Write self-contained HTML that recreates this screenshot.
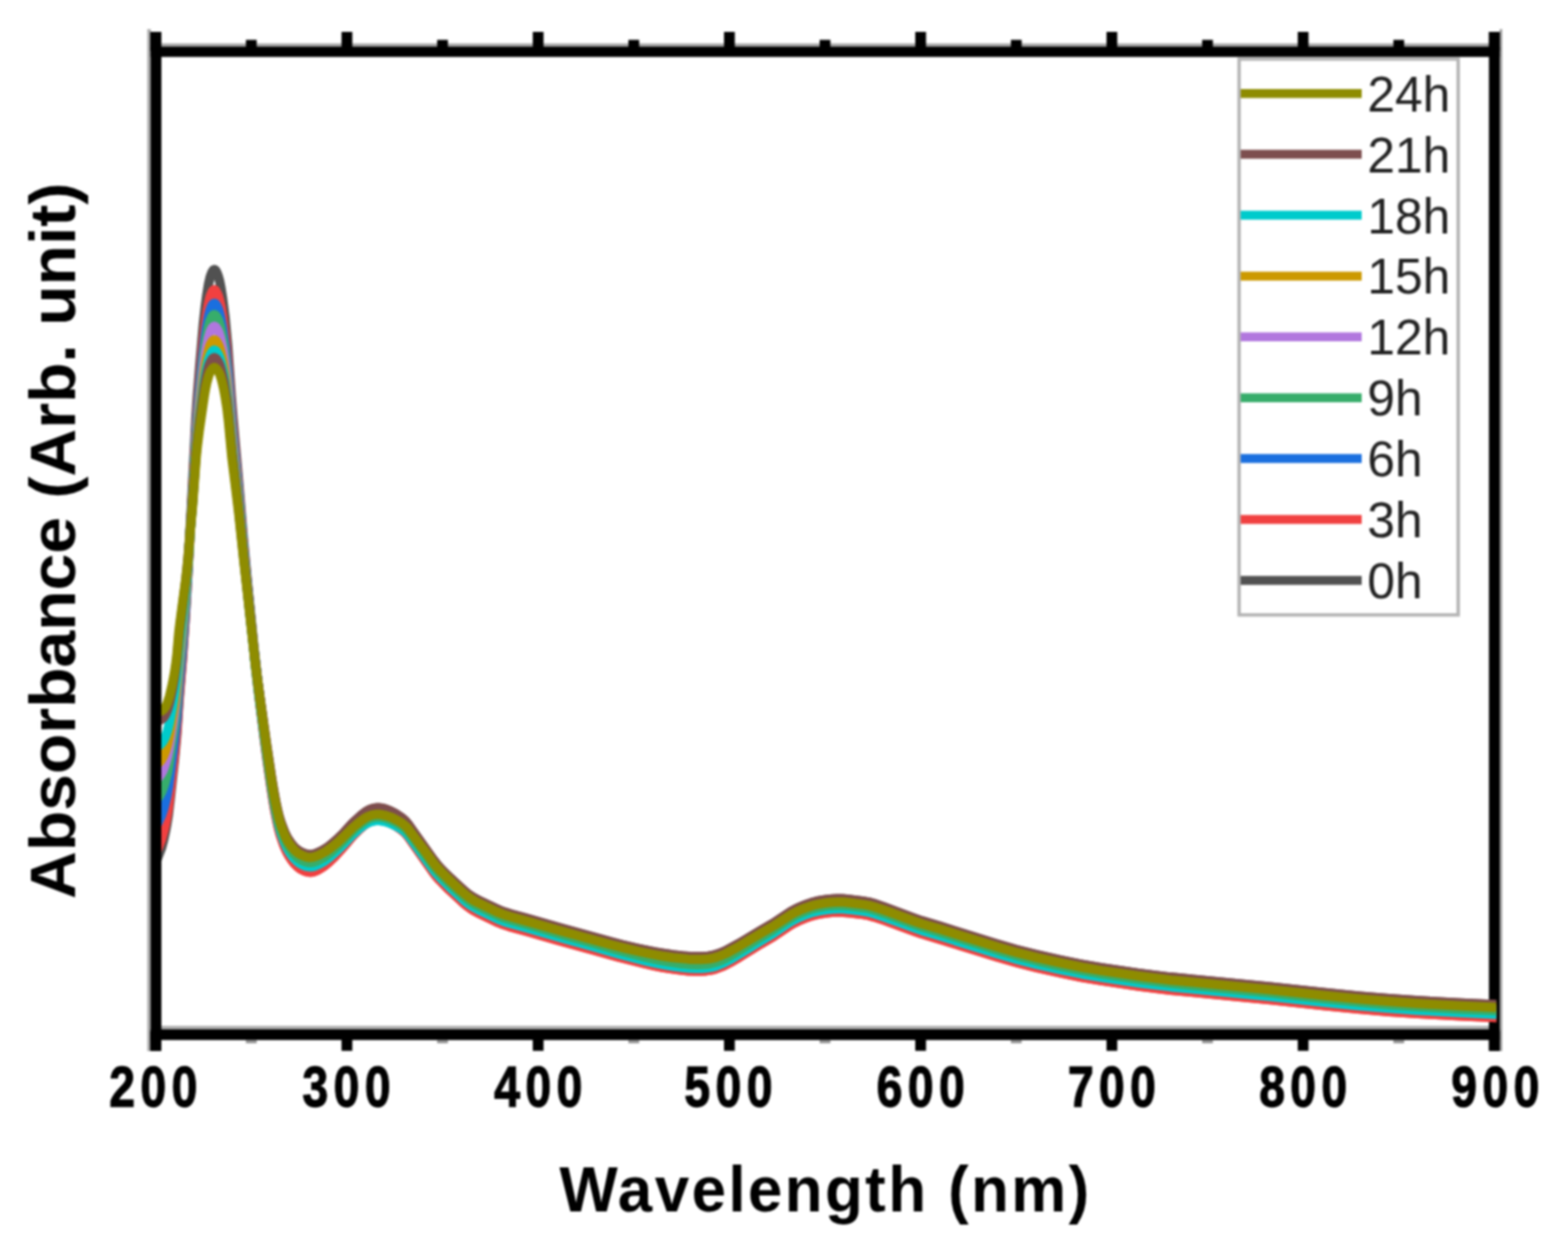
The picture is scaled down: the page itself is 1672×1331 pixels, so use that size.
<!DOCTYPE html>
<html><head><meta charset="utf-8"><title>Absorbance spectra</title><style>html,body{margin:0;padding:0;background:#fff;overflow:hidden}svg{display:block;filter:blur(0.9px)}</style></head><body>
<svg width="1672" height="1331" viewBox="0 0 1672 1331">
<defs><clipPath id="pa"><rect x="172" y="60" width="1423.5" height="1037"/></clipPath></defs>
<rect width="1672" height="1331" fill="#fff"/>
<rect x="1321.3" y="63" width="233.6" height="592.8" fill="none" stroke="#b4b4b4" stroke-width="3.6"/>
<line x1="1323" y1="99.7" x2="1452" y2="99.7" stroke="#8E8C00" stroke-width="9.5"/>
<text x="1458" y="118.7" font-family="Liberation Sans, Arial, sans-serif" font-size="53" fill="#222">24h</text>
<line x1="1323" y1="164.6" x2="1452" y2="164.6" stroke="#7D4E4E" stroke-width="9.5"/>
<text x="1458" y="183.6" font-family="Liberation Sans, Arial, sans-serif" font-size="53" fill="#222">21h</text>
<line x1="1323" y1="229.5" x2="1452" y2="229.5" stroke="#00CBCC" stroke-width="9.5"/>
<text x="1458" y="248.5" font-family="Liberation Sans, Arial, sans-serif" font-size="53" fill="#222">18h</text>
<line x1="1323" y1="294.4" x2="1452" y2="294.4" stroke="#CC9900" stroke-width="9.5"/>
<text x="1458" y="313.4" font-family="Liberation Sans, Arial, sans-serif" font-size="53" fill="#222">15h</text>
<line x1="1323" y1="359.3" x2="1452" y2="359.3" stroke="#B177DE" stroke-width="9.5"/>
<text x="1458" y="378.3" font-family="Liberation Sans, Arial, sans-serif" font-size="53" fill="#222">12h</text>
<line x1="1323" y1="424.2" x2="1452" y2="424.2" stroke="#37AD6B" stroke-width="9.5"/>
<text x="1458" y="443.2" font-family="Liberation Sans, Arial, sans-serif" font-size="53" fill="#222">9h</text>
<line x1="1323" y1="489.1" x2="1452" y2="489.1" stroke="#1A6FDF" stroke-width="9.5"/>
<text x="1458" y="508.1" font-family="Liberation Sans, Arial, sans-serif" font-size="53" fill="#222">6h</text>
<line x1="1323" y1="554.0" x2="1452" y2="554.0" stroke="#F14040" stroke-width="9.5"/>
<text x="1458" y="573.0" font-family="Liberation Sans, Arial, sans-serif" font-size="53" fill="#222">3h</text>
<line x1="1323" y1="618.9" x2="1452" y2="618.9" stroke="#515151" stroke-width="9.5"/>
<text x="1458" y="637.9" font-family="Liberation Sans, Arial, sans-serif" font-size="53" fill="#222">0h</text>
<g fill="#000">
<rect x="157" y="31" width="4" height="1090" fill="#b0b0b0"/>
<rect x="166" y="46.3" width="1428" height="3.5" fill="#a8a8a8"/>
<rect x="172" y="1094" width="1416" height="4" fill="#b0b0b0"/>
<rect x="1599" y="31" width="3" height="1090" fill="#a8a8a8"/>
<rect x="160.6" y="34" width="11.5" height="1086.7"/>
<rect x="1587.7" y="34" width="11.5" height="1086.7"/>
<rect x="160.6" y="49.7" width="1438.6" height="11"/>
<rect x="160.6" y="1097.8" width="1438.6" height="11.4"/>
<rect x="160.25" y="34" width="11.5" height="20"/>
<rect x="160.25" y="1100" width="11.5" height="20.7"/>
<rect x="262.21" y="42.5" width="11.5" height="10"/>
<rect x="262.21" y="1109.2" width="11.5" height="3.3" fill="#8a8a8a"/>
<rect x="364.18" y="34" width="11.5" height="20"/>
<rect x="364.18" y="1100" width="11.5" height="20.7"/>
<rect x="466.14" y="42.5" width="11.5" height="10"/>
<rect x="466.14" y="1109.2" width="11.5" height="3.3" fill="#8a8a8a"/>
<rect x="568.11" y="34" width="11.5" height="20"/>
<rect x="568.11" y="1100" width="11.5" height="20.7"/>
<rect x="670.07" y="42.5" width="11.5" height="10"/>
<rect x="670.07" y="1109.2" width="11.5" height="3.3" fill="#8a8a8a"/>
<rect x="772.04" y="34" width="11.5" height="20"/>
<rect x="772.04" y="1100" width="11.5" height="20.7"/>
<rect x="874.00" y="42.5" width="11.5" height="10"/>
<rect x="874.00" y="1109.2" width="11.5" height="3.3" fill="#8a8a8a"/>
<rect x="975.96" y="34" width="11.5" height="20"/>
<rect x="975.96" y="1100" width="11.5" height="20.7"/>
<rect x="1077.93" y="42.5" width="11.5" height="10"/>
<rect x="1077.93" y="1109.2" width="11.5" height="3.3" fill="#8a8a8a"/>
<rect x="1179.89" y="34" width="11.5" height="20"/>
<rect x="1179.89" y="1100" width="11.5" height="20.7"/>
<rect x="1281.86" y="42.5" width="11.5" height="10"/>
<rect x="1281.86" y="1109.2" width="11.5" height="3.3" fill="#8a8a8a"/>
<rect x="1383.82" y="34" width="11.5" height="20"/>
<rect x="1383.82" y="1100" width="11.5" height="20.7"/>
<rect x="1485.79" y="42.5" width="11.5" height="10"/>
<rect x="1485.79" y="1109.2" width="11.5" height="3.3" fill="#8a8a8a"/>
<rect x="1587.75" y="34" width="11.5" height="20"/>
<rect x="1587.75" y="1100" width="11.5" height="20.7"/>
</g>
<g fill="none" stroke-linejoin="round" stroke-linecap="butt" stroke-width="10" clip-path="url(#pa)">
<path stroke="#515151" d="M163.0,919.9 166.0,919.9 167.6,916.2 172.1,904.7 174.5,895.6 176.2,888.0 177.8,879.8 179.5,869.4 181.6,851.7 186.2,809.3 188.6,782.5 190.8,748.6 194.5,703.6 197.5,659.5 200.0,617.0 208.8,446.7 210.3,424.0 213.1,388.5 216.8,345.8 218.8,327.2 220.5,314.5 222.5,302.3 224.2,295.2 225.4,291.8 226.4,289.6 227.5,288.1 228.5,287.5 229.1,287.7 229.7,288.1 230.3,288.9 231.4,291.1 232.8,294.8 234.2,299.9 235.6,307.0 237.2,317.2 240.0,338.9 242.9,369.8 246.6,422.4 248.5,446.4 253.9,507.1 259.5,574.0 263.6,618.1 270.6,689.1 273.1,712.6 279.9,767.0 285.4,807.2 289.9,837.4 292.7,854.2 296.3,871.5 299.1,881.9 301.3,888.0 303.5,893.4 305.6,897.9 307.6,901.4 311.0,906.2 313.8,909.5 316.9,912.2 319.9,914.1 322.5,915.5 325.3,916.6 328.2,917.3 330.3,917.5 332.3,917.4 334.3,917.1 337.1,916.2 339.8,915.1 347.4,911.1 350.9,908.7 354.8,905.7 359.2,902.2 363.9,897.9 376.4,885.5 384.4,878.9 389.8,875.2 392.0,874.0 394.9,872.8 397.8,872.0 400.6,871.6 402.7,871.5 405.6,871.6 412.0,873.0 417.4,874.8 423.8,878.0 428.6,880.8 432.5,884.0 434.4,885.9 436.6,888.7 454.4,912.6 462.7,924.0 466.0,928.0 469.7,932.0 479.9,942.1 490.4,952.0 495.9,956.7 499.2,959.4 502.6,961.8 506.4,964.1 510.3,966.1 529.9,975.5 538.4,978.9 544.9,980.8 560.5,985.1 596.0,995.2 652.3,1010.7 666.9,1014.4 682.3,1018.0 695.1,1020.7 705.3,1022.5 717.3,1024.2 733.7,1025.9 740.8,1026.2 747.6,1026.3 752.4,1026.1 757.0,1025.5 761.2,1024.6 765.2,1023.4 769.8,1021.8 773.8,1020.0 787.1,1012.8 812.0,998.0 825.0,990.5 843.0,978.7 847.4,976.3 852.8,973.7 858.2,971.5 864.0,969.5 868.8,968.1 873.5,967.1 880.4,966.0 886.9,965.3 893.6,965.0 899.3,965.1 905.7,965.7 920.8,967.6 926.5,968.6 931.7,970.0 943.2,973.8 975.9,985.7 983.1,988.2 1002.1,993.8 1063.8,1013.0 1085.5,1019.2 1106.1,1024.4 1130.9,1029.9 1153.6,1034.5 1174.5,1038.1 1214.6,1044.0 1248.2,1048.2 1354.6,1058.5 1412.9,1064.8 1450.7,1068.5 1481.4,1071.1 1511.9,1073.2 1558.1,1075.8 1600.0,1077.6"/>
<path stroke="#F14040" d="M163.0,910.0 166.0,909.9 168.4,904.6 172.1,895.6 174.5,887.0 176.2,879.8 177.8,871.9 179.5,862.0 181.6,845.0 186.0,806.3 188.6,778.3 190.9,744.2 194.5,701.9 197.5,660.0 200.0,618.3 208.8,458.1 210.1,438.7 212.5,409.5 216.0,370.7 218.5,348.4 220.2,335.4 222.3,323.6 223.9,316.9 224.9,314.1 226.4,310.9 227.5,309.5 228.5,309.0 229.1,309.1 229.7,309.6 231.4,312.3 233.1,316.5 234.4,321.3 235.8,327.9 237.5,337.9 240.3,359.3 243.1,386.5 247.9,449.5 254.0,515.1 259.5,578.2 271.4,699.4 275.1,733.3 281.5,786.1 285.0,812.0 289.5,843.6 292.8,863.6 296.1,879.9 298.7,890.2 302.3,900.7 304.4,905.6 306.6,910.2 308.8,914.0 311.4,917.9 313.8,920.9 316.4,923.6 319.2,925.9 321.8,927.5 324.6,928.9 326.7,929.6 329.6,930.2 331.7,930.2 333.7,929.9 336.4,929.0 339.1,927.7 342.4,925.8 346.2,923.3 349.2,920.9 357.0,913.5 365.4,904.3 376.4,891.3 382.6,885.1 387.4,880.8 392.0,877.5 396.4,875.5 398.5,874.9 401.3,874.4 403.4,874.3 405.6,874.5 408.4,875.0 412.0,876.0 414.7,877.0 418.1,878.6 421.3,880.4 425.6,883.2 428.6,885.4 430.9,887.4 433.0,889.6 435.3,892.4 461.4,929.7 465.0,934.4 468.7,938.6 478.3,948.4 494.2,963.1 498.1,966.3 501.4,968.8 504.5,970.8 508.4,972.9 531.2,983.9 536.6,986.0 542.9,988.1 560.5,992.9 595.3,1002.9 630.7,1012.6 659.4,1020.7 687.3,1027.7 697.9,1030.1 706.7,1031.8 716.5,1033.4 725.4,1034.6 733.7,1035.4 740.8,1035.7 747.6,1035.8 753.0,1035.4 758.4,1034.6 763.2,1033.4 771.2,1030.4 778.9,1026.3 789.6,1020.1 811.4,1006.6 825.0,998.6 843.0,986.6 847.4,984.2 852.8,981.6 858.2,979.4 864.0,977.3 868.8,975.9 873.5,974.9 880.4,973.8 886.9,973.1 893.6,972.8 899.3,972.9 905.7,973.5 920.8,975.4 926.5,976.4 931.7,977.8 943.2,981.6 975.9,993.5 983.1,996.0 1002.1,1001.6 1063.8,1020.8 1085.5,1027.0 1106.1,1032.2 1130.9,1037.7 1153.6,1042.3 1174.5,1045.9 1214.6,1051.8 1248.2,1056.0 1354.6,1066.3 1412.9,1072.6 1450.7,1076.3 1481.4,1078.9 1511.9,1081.0 1558.1,1083.6 1600.0,1085.4"/>
<path stroke="#1A6FDF" d="M163.0,882.0 166.0,881.9 168.4,877.5 172.1,869.9 174.5,862.7 176.2,856.3 178.1,848.1 179.8,838.9 181.8,823.8 186.0,789.8 188.6,764.2 190.9,730.7 194.5,690.9 198.0,646.4 200.0,615.8 202.8,566.1 205.3,526.7 208.8,463.1 210.1,445.5 212.5,418.1 216.0,381.7 218.5,360.5 220.2,348.3 222.3,337.1 223.9,330.9 224.9,328.3 226.4,325.3 227.5,324.0 228.5,323.5 229.1,323.6 229.7,324.0 231.4,326.6 233.1,330.4 234.4,334.9 235.8,341.2 237.5,350.5 240.5,371.8 243.1,396.6 247.7,455.3 254.0,519.8 259.8,583.3 271.3,697.4 274.8,727.8 281.6,780.3 285.0,804.5 289.8,836.7 292.9,855.5 296.1,870.8 298.7,880.7 302.1,890.1 304.1,894.8 305.9,898.5 308.0,902.0 310.6,905.6 312.8,908.4 315.3,910.9 317.4,912.6 320.5,914.5 325.3,916.6 328.2,917.3 330.3,917.5 332.3,917.4 334.3,917.1 337.1,916.2 339.8,915.1 347.4,911.1 350.9,908.7 354.8,905.7 359.2,902.2 363.9,897.9 376.4,885.5 384.4,878.9 389.8,875.2 392.0,874.0 394.9,872.8 397.8,872.0 400.6,871.6 402.7,871.5 405.6,871.6 412.0,873.0 417.4,874.8 423.8,878.0 428.6,880.8 432.5,884.0 434.4,885.9 436.6,888.7 454.4,912.6 462.7,924.0 466.0,928.0 469.7,932.0 479.9,942.1 490.4,952.0 495.9,956.7 499.2,959.4 502.6,961.8 506.4,964.1 510.3,966.1 529.9,975.5 538.4,978.9 544.9,980.8 560.5,985.1 596.0,995.2 652.3,1010.7 666.9,1014.4 682.3,1018.0 695.1,1020.7 705.3,1022.5 717.3,1024.2 733.7,1025.9 740.8,1026.2 747.6,1026.3 752.4,1026.1 757.0,1025.5 761.2,1024.6 765.2,1023.4 769.8,1021.8 773.8,1020.0 787.1,1012.8 812.0,998.0 825.0,990.5 843.0,978.7 847.4,976.3 852.8,973.7 858.2,971.5 864.0,969.5 868.8,968.1 873.5,967.1 880.4,966.0 886.9,965.3 893.6,965.0 899.3,965.1 905.7,965.7 920.8,967.6 926.5,968.6 931.7,970.0 943.2,973.8 975.9,985.7 983.1,988.2 1002.1,993.8 1063.8,1013.0 1085.5,1019.2 1106.1,1024.4 1130.9,1029.9 1153.6,1034.5 1174.5,1038.1 1214.6,1044.0 1248.2,1048.2 1354.6,1058.5 1412.9,1064.8 1450.7,1068.5 1481.4,1071.1 1511.9,1073.2 1558.1,1075.8 1600.0,1077.6"/>
<path stroke="#37AD6B" d="M163.0,855.0 166.0,854.9 170.0,848.8 172.1,845.2 173.4,842.1 175.0,837.8 176.6,832.4 178.6,824.3 180.4,814.4 186.0,773.8 188.6,749.6 191.0,716.7 194.5,680.1 198.2,636.2 200.2,608.5 202.8,564.6 205.2,529.2 208.9,466.9 210.3,449.3 212.6,424.1 216.7,384.7 218.7,368.9 220.4,358.2 222.3,348.4 223.9,342.5 224.9,340.0 226.4,337.2 227.5,336.0 228.5,335.5 229.7,336.0 231.4,338.4 233.1,342.0 234.7,347.1 236.5,355.4 237.8,362.5 240.7,383.1 243.1,405.7 246.5,447.8 248.1,466.0 254.0,523.7 260.8,596.4 271.6,701.0 275.2,731.4 282.3,786.1 285.4,808.1 290.5,842.1 293.3,858.4 296.6,874.0 299.4,883.9 302.9,893.6 304.7,897.6 306.6,901.4 308.8,905.0 311.4,908.7 313.8,911.5 315.8,913.5 318.0,915.3 321.2,917.3 323.9,918.6 326.0,919.3 328.9,919.9 331.0,920.1 333.0,919.9 335.0,919.4 339.8,917.5 346.8,913.6 349.8,911.5 353.7,908.3 358.7,904.0 362.9,900.0 376.4,886.0 383.8,879.6 389.8,875.3 392.0,874.0 394.9,872.8 397.8,872.0 400.6,871.5 402.7,871.4 405.6,871.6 411.3,872.7 416.7,874.6 422.0,877.0 428.0,880.6 432.0,883.7 434.4,886.2 436.6,889.0 462.7,924.6 466.0,928.6 469.7,932.6 479.3,942.2 495.3,956.9 499.2,960.0 502.6,962.4 506.4,964.7 510.3,966.7 531.9,977.0 537.8,979.2 544.9,981.4 560.5,985.7 598.7,996.6 631.4,1005.6 655.1,1012.4 668.3,1015.9 685.9,1020.3 699.3,1023.4 711.3,1025.6 723.2,1027.4 737.0,1028.7 743.2,1028.9 749.0,1028.8 753.0,1028.5 757.0,1028.0 761.2,1027.0 765.2,1025.8 769.8,1024.0 773.8,1022.2 785.9,1015.3 812.0,999.2 825.0,991.4 842.4,979.8 846.7,977.4 852.1,974.7 857.5,972.5 863.4,970.3 868.2,968.9 873.5,967.7 880.4,966.6 886.9,965.9 893.6,965.6 899.3,965.7 905.7,966.3 920.8,968.2 926.5,969.2 931.7,970.6 943.2,974.4 975.9,986.3 983.1,988.8 1002.1,994.4 1063.8,1013.6 1085.5,1019.8 1106.1,1025.0 1130.9,1030.5 1153.6,1035.1 1174.5,1038.7 1214.6,1044.6 1248.2,1048.8 1354.6,1059.1 1412.9,1065.4 1450.7,1069.1 1481.4,1071.7 1511.9,1073.8 1558.1,1076.4 1600.0,1078.2"/>
<path stroke="#B177DE" d="M163.0,833.0 166.0,832.9 170.7,827.0 172.1,825.0 174.0,821.2 176.6,814.1 178.6,806.9 180.4,798.0 182.3,786.0 185.9,761.8 188.5,738.7 191.1,705.5 194.5,671.7 198.6,627.4 200.5,602.1 202.9,564.1 205.2,531.6 208.9,471.3 210.3,455.4 212.6,431.6 217.1,391.7 218.8,378.6 220.4,369.3 222.3,360.1 223.9,354.5 224.9,352.2 226.4,349.6 227.5,348.5 228.5,348.0 229.1,348.1 230.3,349.1 232.0,351.7 233.4,354.8 234.9,359.7 236.6,367.3 238.1,374.9 241.1,395.7 243.2,415.1 246.4,454.1 247.9,469.9 254.0,527.7 261.1,600.7 271.8,703.5 275.4,732.8 282.7,788.3 285.6,808.8 290.8,843.3 293.5,858.6 296.8,873.5 299.4,882.6 302.9,892.1 304.7,896.0 306.6,899.7 308.4,902.6 311.0,906.2 313.3,909.0 315.3,910.9 317.4,912.6 320.5,914.5 325.3,916.6 328.2,917.3 330.3,917.5 332.3,917.4 334.3,917.1 337.1,916.2 339.8,915.1 347.4,911.1 350.9,908.7 354.8,905.7 359.2,902.2 363.9,897.9 376.4,885.5 384.4,878.9 389.8,875.2 392.0,874.0 394.9,872.8 397.8,872.0 400.6,871.6 402.7,871.5 405.6,871.6 412.0,873.0 417.4,874.8 423.8,878.0 428.6,880.8 432.5,884.0 434.4,885.9 436.6,888.7 454.4,912.6 462.7,924.0 466.0,928.0 469.7,932.0 479.9,942.1 490.4,952.0 495.9,956.7 499.2,959.4 502.6,961.8 506.4,964.1 510.3,966.1 529.9,975.5 538.4,978.9 544.9,980.8 560.5,985.1 596.0,995.2 652.3,1010.7 666.9,1014.4 682.3,1018.0 695.1,1020.7 705.3,1022.5 717.3,1024.2 733.7,1025.9 740.8,1026.2 747.6,1026.3 752.4,1026.1 757.0,1025.5 761.2,1024.6 765.2,1023.4 769.8,1021.8 773.8,1020.0 787.1,1012.8 812.0,998.0 825.0,990.5 843.0,978.7 847.4,976.3 852.8,973.7 858.2,971.5 864.0,969.5 868.8,968.1 873.5,967.1 880.4,966.0 886.9,965.3 893.6,965.0 899.3,965.1 905.7,965.7 920.8,967.6 926.5,968.6 931.7,970.0 943.2,973.8 975.9,985.7 983.1,988.2 1002.1,993.8 1063.8,1013.0 1085.5,1019.2 1106.1,1024.4 1130.9,1029.9 1153.6,1034.5 1174.5,1038.1 1214.6,1044.0 1248.2,1048.2 1354.6,1058.5 1412.9,1064.8 1450.7,1068.5 1481.4,1071.1 1511.9,1073.2 1558.1,1075.8 1600.0,1077.6"/>
<path stroke="#CC9900" d="M163.0,817.0 166.0,817.0 168.4,814.6 171.4,811.3 172.1,810.4 174.0,807.1 176.6,800.9 178.6,794.3 180.6,785.2 185.7,753.5 187.2,742.6 188.5,730.5 191.1,697.7 197.4,637.7 198.8,622.5 200.7,599.2 202.9,566.2 205.2,535.4 208.9,477.9 210.2,463.6 212.3,443.2 216.8,405.1 218.7,391.7 220.2,382.9 222.3,373.6 223.9,368.5 224.9,366.4 226.4,364.0 227.5,362.9 228.5,362.5 229.1,362.6 230.3,363.5 232.0,365.9 233.4,368.7 234.9,373.2 236.8,380.9 238.2,388.0 239.8,397.8 241.4,409.5 243.3,426.6 247.6,475.1 253.9,531.7 260.4,596.4 272.2,706.9 275.7,735.3 283.1,791.3 288.2,826.4 291.4,846.9 293.9,860.4 297.3,875.5 299.8,883.9 303.5,893.4 305.3,897.3 307.3,900.9 309.7,904.4 311.9,907.3 314.3,910.0 316.4,911.8 318.6,913.4 321.2,914.8 323.9,916.1 326.0,916.8 328.9,917.4 331.0,917.5 333.0,917.3 335.0,916.9 339.8,915.1 347.4,911.1 350.9,908.7 354.8,905.7 359.2,902.2 363.9,897.9 376.4,885.5 384.4,878.9 389.8,875.2 392.0,874.0 394.9,872.8 397.8,872.0 400.6,871.6 402.7,871.5 405.6,871.6 412.0,873.0 417.4,874.8 423.8,878.0 428.6,880.8 432.5,884.0 434.4,885.9 436.6,888.7 454.4,912.6 462.7,924.0 466.0,928.0 469.7,932.0 479.9,942.1 490.4,952.0 495.9,956.7 499.2,959.4 502.6,961.8 506.4,964.1 510.3,966.1 529.9,975.5 538.4,978.9 544.9,980.8 560.5,985.1 596.0,995.2 652.3,1010.7 666.9,1014.4 682.3,1018.0 695.1,1020.7 705.3,1022.5 717.3,1024.2 733.7,1025.9 740.8,1026.2 747.6,1026.3 752.4,1026.1 757.0,1025.5 761.2,1024.6 765.2,1023.4 769.8,1021.8 773.8,1020.0 787.1,1012.8 812.0,998.0 825.0,990.5 843.0,978.7 847.4,976.3 852.8,973.7 858.2,971.5 864.0,969.5 868.8,968.1 873.5,967.1 880.4,966.0 886.9,965.3 893.6,965.0 899.3,965.1 905.7,965.7 920.8,967.6 926.5,968.6 931.7,970.0 943.2,973.8 975.9,985.7 983.1,988.2 1002.1,993.8 1063.8,1013.0 1085.5,1019.2 1106.1,1024.4 1130.9,1029.9 1153.6,1034.5 1174.5,1038.1 1214.6,1044.0 1248.2,1048.2 1354.6,1058.5 1412.9,1064.8 1450.7,1068.5 1481.4,1071.1 1511.9,1073.2 1558.1,1075.8 1600.0,1077.6"/>
<path stroke="#00CBCC" d="M163.0,798.0 166.0,798.0 168.4,796.3 171.4,793.7 172.8,792.2 174.0,790.4 175.4,787.9 176.6,785.2 178.6,779.3 180.6,771.2 183.2,757.6 185.7,742.2 187.2,731.9 188.4,721.3 191.2,688.0 197.5,632.0 199.1,615.6 201.0,593.4 202.9,565.8 205.2,537.5 209.0,481.8 210.4,466.7 212.7,446.3 217.5,408.8 219.1,398.9 220.5,391.4 222.5,383.2 224.2,378.6 225.4,376.4 226.9,374.4 228.0,373.6 229.1,373.6 229.7,373.9 230.9,375.1 232.8,378.1 234.2,381.2 235.6,385.9 237.2,392.6 238.8,400.3 241.9,421.0 243.6,436.3 247.3,478.0 254.2,537.5 260.0,594.8 272.6,712.2 276.3,742.8 283.4,797.3 288.5,833.1 291.8,853.6 294.5,868.2 297.6,881.9 300.5,891.2 304.1,900.3 305.9,904.2 307.6,907.2 310.1,911.0 312.4,914.0 314.8,916.8 316.9,918.7 319.2,920.4 321.8,921.9 324.6,923.2 326.7,923.9 328.9,924.3 331.0,924.5 333.0,924.3 335.0,923.8 339.8,921.9 346.8,917.8 349.8,915.6 353.2,912.8 358.1,908.5 362.4,904.4 376.4,889.7 383.8,883.3 389.2,879.3 391.5,877.9 394.2,876.7 397.1,875.8 399.9,875.2 402.7,875.0 404.9,875.1 407.7,875.5 411.3,876.3 416.7,878.2 422.0,880.6 428.0,884.2 432.0,887.3 434.4,889.8 436.6,892.6 462.7,928.2 466.0,932.2 469.7,936.2 479.3,945.8 495.3,960.5 499.2,963.6 502.6,966.0 506.4,968.3 510.3,970.3 531.9,980.6 537.8,982.8 544.9,985.0 560.5,989.3 598.7,1000.2 631.4,1009.2 655.8,1016.3 672.4,1020.7 688.7,1024.8 701.3,1027.6 712.8,1029.7 724.0,1031.4 737.0,1032.6 743.2,1032.8 749.0,1032.7 753.0,1032.4 757.0,1031.8 761.2,1030.9 765.2,1029.6 769.8,1027.8 773.8,1026.0 785.9,1019.0 812.0,1002.8 825.0,995.1 842.4,983.4 846.7,981.0 852.1,978.3 857.5,976.1 863.4,974.0 868.2,972.5 873.5,971.3 880.4,970.2 886.9,969.5 893.6,969.2 899.3,969.3 905.7,969.9 920.8,971.8 926.5,972.8 931.7,974.2 943.2,978.0 975.9,989.9 983.1,992.4 1002.1,998.0 1063.8,1017.2 1085.5,1023.4 1106.1,1028.6 1130.9,1034.1 1153.6,1038.7 1174.5,1042.3 1214.6,1048.2 1248.2,1052.4 1354.6,1062.7 1412.9,1069.0 1450.7,1072.7 1481.4,1075.3 1511.9,1077.4 1558.1,1080.0 1600.0,1081.8"/>
<path stroke="#7D4E4E" d="M163.0,770.0 165.2,770.0 166.8,769.8 169.2,768.8 172.1,767.3 173.4,766.3 174.5,765.2 176.6,761.9 178.6,757.1 180.8,749.6 183.5,737.3 185.7,725.2 188.2,707.5 191.5,672.1 197.9,620.5 199.6,604.6 201.1,587.8 202.9,563.9 205.3,536.7 209.1,483.7 210.5,469.3 212.9,449.2 218.1,411.5 219.6,403.0 221.1,396.1 222.7,390.0 224.5,385.8 225.9,383.5 226.9,382.3 228.0,381.6 229.1,381.6 229.7,381.9 230.9,383.0 232.8,385.8 234.2,388.8 235.6,393.2 237.2,399.6 238.8,407.0 241.9,426.9 243.5,441.0 247.3,482.3 254.1,539.3 260.3,598.8 272.2,706.0 275.3,730.1 283.7,790.4 289.1,826.6 292.0,844.4 294.8,859.0 297.6,870.9 300.3,879.2 303.8,888.1 305.6,891.9 307.3,894.9 309.7,898.4 311.9,901.3 314.3,904.0 316.4,905.8 318.6,907.4 321.2,908.8 323.9,910.0 326.7,910.9 329.6,911.4 331.7,911.4 333.7,911.1 336.4,910.4 339.1,909.3 342.4,907.6 346.2,905.6 349.2,903.6 352.6,901.0 358.1,896.4 361.8,892.9 367.0,887.7 374.3,879.6 377.0,876.9 384.4,870.1 389.8,865.9 392.0,864.5 394.9,863.1 397.1,862.4 399.9,861.8 402.7,861.5 404.9,861.6 409.9,862.5 415.4,864.4 420.7,867.1 426.8,870.9 431.4,874.7 433.9,877.4 436.2,880.3 462.3,917.1 465.5,921.2 468.7,924.9 473.1,929.5 478.8,935.1 494.8,949.8 498.6,953.0 502.0,955.4 505.1,957.4 509.0,959.5 531.9,970.4 537.8,972.6 545.6,975.0 560.5,979.1 600.1,990.4 660.1,1006.8 678.0,1011.0 693.0,1014.2 704.7,1016.4 717.3,1018.2 733.7,1019.9 740.8,1020.2 747.6,1020.3 752.4,1020.1 757.0,1019.5 761.2,1018.6 765.2,1017.4 769.8,1015.7 773.8,1014.0 787.1,1006.7 825.0,984.3 843.0,972.4 848.0,969.6 853.5,967.1 858.9,964.9 864.7,962.9 869.5,961.5 874.1,960.5 881.1,959.4 887.7,958.8 893.6,958.5 899.3,958.6 905.7,959.2 920.8,961.2 926.5,962.2 931.7,963.6 942.5,967.2 975.9,979.6 983.1,982.1 1001.6,987.6 1062.5,1006.6 1084.1,1012.9 1105.4,1018.2 1130.2,1023.8 1153.0,1028.3 1173.8,1032.0 1213.9,1037.9 1247.5,1042.1 1354.6,1052.5 1412.9,1058.8 1450.7,1062.5 1481.4,1065.1 1511.9,1067.2 1558.1,1069.8 1600.0,1071.6"/>
<path stroke="#515151" d="M271.0,693.6 275.2,730.0 283.2,791.6 289.7,835.9 293.5,858.6 296.0,870.1 297.8,877.5 299.8,883.8 302.3,890.8 304.7,896.0 307.3,900.9 310.6,905.6 313.8,909.5 316.4,911.8 319.2,913.8 322.5,915.5 326.0,916.8 328.9,917.4 331.7,917.5 334.3,917.1 337.1,916.2 341.1,914.5 346.2,911.8 349.2,910.0 353.2,907.0 358.7,902.6 362.9,898.9 367.5,894.5 373.8,888.0 377.0,885.0 384.4,878.9 387.4,876.7 390.3,874.9 392.7,873.7 395.6,872.6 398.5,871.9 401.3,871.5 403.4,871.5 406.3,871.7 409.2,872.3 413.4,873.4 418.7,875.4 425.0,878.6 429.2,881.2 433.0,884.4 436.6,888.7 454.4,912.6 461.4,922.3 466.0,928.0 471.1,933.6 477.3,939.7 490.4,952.0 496.4,957.2 499.7,959.8 503.2,962.2 510.3,966.1 531.9,976.4 537.8,978.6 544.2,980.6 560.5,985.1 598.7,996.0 653.0,1010.9 663.6,1013.7 681.6,1017.8 701.3,1021.8 718.8,1024.4 727.6,1025.4 735.7,1026.0 743.2,1026.3 749.7,1026.2 755.7,1025.7 761.9,1024.4 768.5,1022.3 775.1,1019.4 789.6,1011.4 812.0,998.0 823.7,991.3 843.6,978.3 849.4,975.3 856.2,972.3 862.1,970.1 867.5,968.5 872.1,967.4 877.7,966.4 884.0,965.6 890.6,965.1 896.4,965.0 902.1,965.4 921.5,967.7 927.2,968.8 932.3,970.2 943.2,973.8 975.9,985.7 983.1,988.2 1002.1,993.8 1063.8,1013.0 1084.1,1018.9 1105.4,1024.2 1130.2,1029.8 1153.0,1034.3 1173.8,1038.0 1213.9,1043.9 1247.5,1048.1 1354.6,1058.5 1412.9,1064.8 1450.7,1068.5 1481.4,1071.1 1511.9,1073.2 1558.1,1075.8 1600.0,1077.6"/>
<path stroke="#1A6FDF" d="M271.0,695.2 275.2,730.8 283.5,793.9 289.9,837.5 293.6,859.2 296.0,870.1 297.8,877.5 299.8,883.9 302.3,890.8 304.7,896.0 307.3,900.9 310.6,905.6 313.8,909.5 316.4,911.8 319.2,913.8 322.5,915.5 326.0,916.8 328.9,917.4 331.7,917.5 334.3,917.1 337.1,916.2 341.1,914.5 346.2,911.8 349.2,910.0 353.2,907.0 358.7,902.6 362.9,898.9 367.5,894.5 373.8,888.0 377.0,885.0 384.4,878.9 387.4,876.7 390.3,874.9 392.7,873.7 395.6,872.6 398.5,871.9 401.3,871.5 403.4,871.5 406.3,871.7 409.2,872.3 413.4,873.4 418.7,875.4 425.0,878.6 429.2,881.2 433.0,884.4 436.6,888.7 454.4,912.6 461.4,922.3 466.0,928.0 471.1,933.6 477.3,939.7 490.4,952.0 496.4,957.2 499.7,959.8 503.2,962.2 510.3,966.1 531.9,976.4 537.8,978.6 544.2,980.6 560.5,985.1 598.7,996.0 653.0,1010.9 663.6,1013.7 681.6,1017.8 701.3,1021.8 718.8,1024.4 727.6,1025.4 735.7,1026.0 743.2,1026.3 749.7,1026.2 755.7,1025.7 761.9,1024.4 768.5,1022.3 775.1,1019.4 789.6,1011.4 812.0,998.0 823.7,991.3 843.6,978.3 849.4,975.3 856.2,972.3 862.1,970.1 867.5,968.5 872.1,967.4 877.7,966.4 884.0,965.6 890.6,965.1 896.4,965.0 902.1,965.4 921.5,967.7 927.2,968.8 932.3,970.2 943.2,973.8 975.9,985.7 983.1,988.2 1002.1,993.8 1063.8,1013.0 1084.1,1018.9 1105.4,1024.2 1130.2,1029.8 1153.0,1034.3 1173.8,1038.0 1213.9,1043.9 1247.5,1048.1 1354.6,1058.5 1412.9,1064.8 1450.7,1068.5 1481.4,1071.1 1511.9,1073.2 1558.1,1075.8 1600.0,1077.6"/>
<path stroke="#B177DE" d="M271.0,696.2 275.1,730.6 283.6,794.7 289.9,837.5 293.6,859.2 296.0,870.1 297.8,877.5 299.8,883.9 302.3,890.8 304.7,896.0 307.3,900.9 310.6,905.6 313.8,909.5 316.4,911.8 319.2,913.8 322.5,915.5 326.0,916.8 328.9,917.4 331.7,917.5 334.3,917.1 337.1,916.2 341.1,914.5 346.2,911.8 349.2,910.0 353.2,907.0 358.7,902.6 362.9,898.9 367.5,894.5 373.8,888.0 377.0,885.0 384.4,878.9 387.4,876.7 390.3,874.9 392.7,873.7 395.6,872.6 398.5,871.9 401.3,871.5 403.4,871.5 406.3,871.7 409.2,872.3 413.4,873.4 418.7,875.4 425.0,878.6 429.2,881.2 433.0,884.4 436.6,888.7 454.4,912.6 461.4,922.3 466.0,928.0 471.1,933.6 477.3,939.7 490.4,952.0 496.4,957.2 499.7,959.8 503.2,962.2 510.3,966.1 531.9,976.4 537.8,978.6 544.2,980.6 560.5,985.1 598.7,996.0 653.0,1010.9 663.6,1013.7 681.6,1017.8 701.3,1021.8 718.8,1024.4 727.6,1025.4 735.7,1026.0 743.2,1026.3 749.7,1026.2 755.7,1025.7 761.9,1024.4 768.5,1022.3 775.1,1019.4 789.6,1011.4 812.0,998.0 823.7,991.3 843.6,978.3 849.4,975.3 856.2,972.3 862.1,970.1 867.5,968.5 872.1,967.4 877.7,966.4 884.0,965.6 890.6,965.1 896.4,965.0 902.1,965.4 921.5,967.7 927.2,968.8 932.3,970.2 943.2,973.8 975.9,985.7 983.1,988.2 1002.1,993.8 1063.8,1013.0 1084.1,1018.9 1105.4,1024.2 1130.2,1029.8 1153.0,1034.3 1173.8,1038.0 1213.9,1043.9 1247.5,1048.1 1354.6,1058.5 1412.9,1064.8 1450.7,1068.5 1481.4,1071.1 1511.9,1073.2 1558.1,1075.8 1600.0,1077.6"/>
<path stroke="#CC9900" d="M271.0,696.9 275.1,731.0 283.7,795.5 289.9,837.5 293.6,859.2 296.0,870.1 297.8,877.5 299.8,883.9 302.3,890.8 304.7,896.0 307.3,900.9 310.6,905.6 313.8,909.5 316.4,911.8 319.2,913.8 322.5,915.5 326.0,916.8 328.9,917.4 331.7,917.5 334.3,917.1 337.1,916.2 341.1,914.5 346.2,911.8 349.2,910.0 353.2,907.0 358.7,902.6 362.9,898.9 367.5,894.5 373.8,888.0 377.0,885.0 384.4,878.9 387.4,876.7 390.3,874.9 392.7,873.7 395.6,872.6 398.5,871.9 401.3,871.5 403.4,871.5 406.3,871.7 409.2,872.3 413.4,873.4 418.7,875.4 425.0,878.6 429.2,881.2 433.0,884.4 436.6,888.7 454.4,912.6 461.4,922.3 466.0,928.0 471.1,933.6 477.3,939.7 490.4,952.0 496.4,957.2 499.7,959.8 503.2,962.2 510.3,966.1 531.9,976.4 537.8,978.6 544.2,980.6 560.5,985.1 598.7,996.0 653.0,1010.9 663.6,1013.7 681.6,1017.8 701.3,1021.8 718.8,1024.4 727.6,1025.4 735.7,1026.0 743.2,1026.3 749.7,1026.2 755.7,1025.7 761.9,1024.4 768.5,1022.3 775.1,1019.4 789.6,1011.4 812.0,998.0 823.7,991.3 843.6,978.3 849.4,975.3 856.2,972.3 862.1,970.1 867.5,968.5 872.1,967.4 877.7,966.4 884.0,965.6 890.6,965.1 896.4,965.0 902.1,965.4 921.5,967.7 927.2,968.8 932.3,970.2 943.2,973.8 975.9,985.7 983.1,988.2 1002.1,993.8 1063.8,1013.0 1084.1,1018.9 1105.4,1024.2 1130.2,1029.8 1153.0,1034.3 1173.8,1038.0 1213.9,1043.9 1247.5,1048.1 1354.6,1058.5 1412.9,1064.8 1450.7,1068.5 1481.4,1071.1 1511.9,1073.2 1558.1,1075.8 1600.0,1077.6"/>
<path stroke="#F14040" d="M271.0,696.3 273.3,717.4 276.3,743.5 281.5,785.3 284.8,810.6 289.0,839.8 291.6,856.8 293.8,868.6 296.8,882.8 299.4,892.1 302.6,901.4 305.9,908.9 309.3,914.7 313.3,920.4 316.9,924.1 319.2,925.9 321.8,927.5 324.6,928.9 326.7,929.6 328.9,930.1 331.0,930.2 333.0,930.0 335.0,929.5 337.1,928.7 339.8,927.4 345.6,923.7 350.9,919.4 358.1,912.4 367.0,902.5 375.9,891.9 382.6,885.1 387.4,880.8 392.0,877.5 396.4,875.5 398.5,874.9 401.3,874.4 403.4,874.3 405.6,874.5 408.4,875.0 412.0,876.0 414.7,877.0 418.1,878.6 421.3,880.4 425.6,883.2 428.6,885.4 430.9,887.4 433.0,889.6 435.3,892.4 461.4,929.7 465.0,934.4 468.7,938.6 478.3,948.4 494.2,963.1 498.1,966.3 501.4,968.8 504.5,970.8 508.4,972.9 531.2,983.9 536.6,986.0 542.9,988.1 560.5,992.9 595.3,1002.9 630.7,1012.6 659.4,1020.7 687.3,1027.7 697.9,1030.1 706.7,1031.8 716.5,1033.4 725.4,1034.6 733.7,1035.4 740.8,1035.7 747.6,1035.8 753.0,1035.4 758.4,1034.6 763.2,1033.4 771.2,1030.4 778.9,1026.3 789.6,1020.1 811.4,1006.6 825.0,998.6 843.0,986.6 847.4,984.2 852.8,981.6 858.2,979.4 864.0,977.3 868.8,975.9 873.5,974.9 880.4,973.8 886.9,973.1 893.6,972.8 899.3,972.9 905.7,973.5 920.8,975.4 926.5,976.4 931.7,977.8 943.2,981.6 975.9,993.5 983.1,996.0 1002.1,1001.6 1063.8,1020.8 1085.5,1027.0 1106.1,1032.2 1130.9,1037.7 1153.6,1042.3 1174.5,1045.9 1214.6,1051.8 1248.2,1056.0 1354.6,1066.3 1412.9,1072.6 1450.7,1076.3 1481.4,1078.9 1511.9,1081.0 1558.1,1083.6 1600.0,1085.4"/>
<path stroke="#00CBCC" d="M271.0,698.3 275.9,739.9 281.9,786.4 285.2,810.2 289.3,838.4 291.9,854.3 293.9,865.2 296.9,879.2 299.4,887.8 302.9,897.5 305.9,904.2 309.3,909.8 313.3,915.2 316.9,918.7 319.2,920.4 321.8,921.9 324.6,923.2 326.7,923.9 328.9,924.3 331.0,924.5 333.0,924.3 335.0,923.8 339.8,921.9 345.6,918.6 350.9,914.7 358.1,908.5 367.5,899.2 375.9,890.2 382.0,884.7 386.8,880.9 391.5,877.9 395.6,876.2 397.8,875.6 400.6,875.1 402.7,875.0 405.6,875.2 408.4,875.6 412.7,876.7 418.7,879.0 422.6,881.0 426.8,883.4 429.7,885.4 432.0,887.3 434.4,889.8 436.6,892.6 462.7,928.2 466.0,932.2 469.7,936.2 479.3,945.8 495.3,960.5 499.2,963.6 502.6,966.0 509.7,970.0 531.2,980.3 536.6,982.4 542.9,984.5 560.5,989.3 598.7,1000.2 631.4,1009.2 660.8,1017.7 690.8,1025.3 701.3,1027.6 710.5,1029.3 719.5,1030.8 727.6,1031.8 735.0,1032.4 742.4,1032.8 748.3,1032.7 753.7,1032.3 758.4,1031.6 763.2,1030.3 771.2,1027.2 778.9,1023.1 789.6,1016.8 811.4,1003.2 825.0,995.1 842.4,983.4 846.7,981.0 852.1,978.3 857.5,976.1 863.4,974.0 868.2,972.5 873.5,971.3 880.4,970.2 886.9,969.5 893.6,969.2 899.3,969.3 905.7,969.9 920.8,971.8 926.5,972.8 931.7,974.2 943.2,978.0 975.9,989.9 983.1,992.4 1002.1,998.0 1063.8,1017.2 1085.5,1023.4 1106.1,1028.6 1130.9,1034.1 1153.6,1038.7 1174.5,1042.3 1214.6,1048.2 1248.2,1052.4 1354.6,1062.7 1412.9,1069.0 1450.7,1072.7 1481.4,1075.3 1511.9,1077.4 1558.1,1080.0 1600.0,1081.8"/>
<path stroke="#37AD6B" d="M271.0,695.8 275.7,735.1 285.1,806.0 289.3,834.7 291.9,850.6 293.9,861.4 296.9,875.4 299.4,883.9 302.6,892.9 305.6,899.5 308.8,905.0 312.8,910.4 316.4,914.0 318.6,915.7 321.2,917.3 323.9,918.6 326.0,919.3 328.9,919.9 331.0,920.1 333.0,919.9 335.0,919.4 337.7,918.5 340.5,917.2 345.0,914.7 348.0,912.8 353.2,908.8 360.3,902.5 367.5,895.4 374.8,887.5 378.0,884.5 385.6,878.2 390.9,874.6 393.5,873.4 395.6,872.6 397.8,872.0 400.6,871.5 402.7,871.4 405.6,871.6 411.3,872.7 416.7,874.6 422.0,877.0 428.0,880.6 432.0,883.7 434.4,886.2 436.6,889.0 462.7,924.6 466.0,928.6 469.7,932.6 479.3,942.2 495.3,956.9 499.2,960.0 502.6,962.4 506.4,964.7 510.3,966.7 531.9,977.0 537.8,979.2 544.9,981.4 560.5,985.7 598.7,996.6 631.4,1005.6 655.1,1012.4 668.3,1015.9 685.9,1020.3 699.3,1023.4 711.3,1025.6 723.2,1027.4 737.0,1028.7 743.2,1028.9 749.0,1028.8 753.0,1028.5 757.0,1028.0 761.2,1027.0 765.2,1025.8 769.8,1024.0 773.8,1022.2 785.9,1015.3 812.0,999.2 825.0,991.4 842.4,979.8 846.7,977.4 852.1,974.7 857.5,972.5 863.4,970.3 868.2,968.9 873.5,967.7 880.4,966.6 886.9,965.9 893.6,965.6 899.3,965.7 905.7,966.3 920.8,968.2 926.5,969.2 931.7,970.6 943.2,974.4 975.9,986.3 983.1,988.8 1002.1,994.4 1063.8,1013.6 1085.5,1019.8 1106.1,1025.0 1130.9,1030.5 1153.6,1035.1 1174.5,1038.7 1214.6,1044.6 1248.2,1048.8 1354.6,1059.1 1412.9,1065.4 1450.7,1069.1 1481.4,1071.7 1511.9,1073.8 1558.1,1076.4 1600.0,1078.2"/>
<path stroke="#7D4E4E" d="M271.0,696.4 274.7,726.0 284.1,793.1 290.2,833.9 293.9,854.5 296.1,864.8 297.8,871.5 299.8,877.9 302.3,884.8 304.7,890.0 307.3,894.9 310.6,899.6 313.8,903.5 316.4,905.8 319.2,907.8 322.5,909.5 326.0,910.7 328.9,911.3 331.7,911.4 334.3,911.0 337.7,909.9 341.8,908.0 346.8,905.2 350.4,902.8 354.8,899.2 359.2,895.4 363.4,891.4 368.0,886.7 374.8,879.1 379.1,874.9 385.6,869.1 390.9,865.1 393.5,863.8 396.4,862.6 398.5,862.0 401.3,861.6 403.4,861.5 406.3,861.7 412.0,863.2 417.4,865.3 423.2,868.6 428.6,872.3 432.5,875.8 436.2,880.3 461.0,915.4 466.0,921.8 471.1,927.5 477.3,933.6 489.9,945.5 495.9,950.7 499.7,953.8 503.2,956.2 507.1,958.4 511.0,960.4 532.5,970.6 538.4,972.9 545.6,975.0 560.5,979.1 598.7,990.0 653.0,1004.9 663.6,1007.7 681.6,1011.8 701.3,1015.8 718.8,1018.4 727.6,1019.4 735.7,1020.0 743.2,1020.3 749.7,1020.2 755.7,1019.7 761.9,1018.4 768.5,1016.3 775.1,1013.4 789.6,1005.3 812.0,991.9 823.7,985.1 843.6,972.0 850.1,968.6 856.9,965.7 862.1,963.7 867.5,962.0 872.1,960.9 878.3,959.8 884.7,959.0 891.4,958.6 896.4,958.5 902.1,958.9 921.5,961.3 926.5,962.2 931.7,963.6 942.5,967.2 975.9,979.6 983.1,982.1 1001.6,987.6 1061.8,1006.4 1082.7,1012.5 1104.1,1017.9 1128.9,1023.5 1151.6,1028.1 1173.1,1031.9 1213.9,1037.9 1247.5,1042.1 1354.6,1052.5 1412.9,1058.8 1450.0,1062.4 1480.7,1065.1 1511.2,1067.1 1558.1,1069.8 1600.0,1071.6"/>
<path stroke="#8E8C00" d="M163.0,760.0 165.2,760.1 166.8,759.9 169.2,759.3 172.1,758.2 173.4,757.4 174.5,756.5 176.6,753.7 178.6,749.3 180.8,742.4 183.5,731.0 185.6,720.2 187.2,710.4 188.6,699.4 190.6,675.6 192.0,663.7 198.1,617.8 199.8,602.9 201.2,587.9 202.9,565.7 205.3,539.7 209.1,488.6 210.4,475.6 212.7,457.4 217.9,421.6 219.2,414.1 220.5,408.0 222.5,400.6 224.2,396.5 225.4,394.6 226.9,392.8 228.0,392.1 229.1,392.1 230.9,393.4 232.8,396.0 234.2,398.7 235.6,402.8 237.2,408.8 238.8,415.8 240.3,424.5 242.0,435.2 243.6,448.8 247.2,487.3 254.3,544.8 260.0,598.0 272.5,710.0 275.7,734.5 283.9,794.4 289.2,830.3 292.2,848.7 295.2,863.5 297.8,874.5 300.5,882.9 304.1,891.8 305.9,895.5 307.6,898.4 310.1,902.0 312.4,904.9 314.3,907.0 316.4,908.8 318.6,910.4 321.2,911.8 323.9,913.1 326.0,913.8 328.9,914.4 331.0,914.5 333.0,914.3 335.0,913.9 339.8,912.1 347.4,908.1 350.9,905.7 354.8,902.7 359.2,899.2 363.9,894.9 376.4,882.5 384.4,875.9 389.8,872.2 392.0,871.0 394.9,869.8 397.8,869.0 400.6,868.6 402.7,868.5 405.6,868.6 412.0,870.0 417.4,871.8 423.8,875.0 428.6,877.8 432.5,881.0 434.4,882.9 436.6,885.7 454.4,909.6 462.7,921.0 466.0,925.0 469.7,929.0 479.9,939.1 490.4,949.0 495.9,953.7 499.2,956.4 502.6,958.8 506.4,961.1 510.3,963.1 529.9,972.5 538.4,975.9 544.9,977.8 560.5,982.1 596.0,992.2 652.3,1007.7 666.9,1011.4 682.3,1015.0 695.1,1017.7 705.3,1019.5 717.3,1021.2 733.7,1022.9 740.8,1023.2 747.6,1023.3 752.4,1023.1 757.0,1022.5 761.2,1021.6 765.2,1020.4 769.8,1018.8 773.8,1017.0 787.1,1009.8 812.0,995.0 825.0,987.5 843.0,975.7 847.4,973.3 852.8,970.7 858.2,968.5 864.0,966.5 868.8,965.1 873.5,964.1 880.4,963.0 886.9,962.3 893.6,962.0 899.3,962.1 905.7,962.7 920.8,964.6 926.5,965.6 931.7,967.0 943.2,970.8 975.9,982.7 983.1,985.2 1002.1,990.8 1063.8,1010.0 1085.5,1016.2 1106.1,1021.4 1130.9,1026.9 1153.6,1031.5 1174.5,1035.1 1214.6,1041.0 1248.2,1045.2 1354.6,1055.5 1412.9,1061.8 1450.7,1065.5 1481.4,1068.1 1511.9,1070.2 1558.1,1072.8 1600.0,1074.6"/>
</g>
<text transform="translate(163.5,1180) scale(0.81,1)" text-anchor="middle" font-family="Liberation Sans, Arial, sans-serif" font-weight="bold" font-size="61" stroke="#000" stroke-width="1.3" textLength="116" lengthAdjust="spacing">200</text>
<text transform="translate(369.4,1180) scale(0.81,1)" text-anchor="middle" font-family="Liberation Sans, Arial, sans-serif" font-weight="bold" font-size="61" stroke="#000" stroke-width="1.3" textLength="116" lengthAdjust="spacing">300</text>
<text transform="translate(573.9,1180) scale(0.81,1)" text-anchor="middle" font-family="Liberation Sans, Arial, sans-serif" font-weight="bold" font-size="61" stroke="#000" stroke-width="1.3" textLength="116" lengthAdjust="spacing">400</text>
<text transform="translate(776.8,1180) scale(0.81,1)" text-anchor="middle" font-family="Liberation Sans, Arial, sans-serif" font-weight="bold" font-size="61" stroke="#000" stroke-width="1.3" textLength="116" lengthAdjust="spacing">500</text>
<text transform="translate(981.7,1180) scale(0.81,1)" text-anchor="middle" font-family="Liberation Sans, Arial, sans-serif" font-weight="bold" font-size="61" stroke="#000" stroke-width="1.3" textLength="116" lengthAdjust="spacing">600</text>
<text transform="translate(1185.6,1180) scale(0.81,1)" text-anchor="middle" font-family="Liberation Sans, Arial, sans-serif" font-weight="bold" font-size="61" stroke="#000" stroke-width="1.3" textLength="116" lengthAdjust="spacing">700</text>
<text transform="translate(1389.6,1180) scale(0.81,1)" text-anchor="middle" font-family="Liberation Sans, Arial, sans-serif" font-weight="bold" font-size="61" stroke="#000" stroke-width="1.3" textLength="116" lengthAdjust="spacing">800</text>
<text transform="translate(1594.5,1180) scale(0.81,1)" text-anchor="middle" font-family="Liberation Sans, Arial, sans-serif" font-weight="bold" font-size="61" stroke="#000" stroke-width="1.3" textLength="116" lengthAdjust="spacing">900</text>
<text transform="translate(596.5,1292.4) scale(0.97,1)" font-family="Liberation Sans, Arial, sans-serif" font-weight="bold" font-size="68" textLength="582.5" lengthAdjust="spacing">Wavelength (nm)</text>
<text transform="translate(79.6,958.8) rotate(-90)" x="0" y="0" font-family="Liberation Sans, Arial, sans-serif" font-weight="bold" font-size="69" textLength="764" lengthAdjust="spacingAndGlyphs">Absorbance (Arb. unit)</text>
</svg>
</body></html>
